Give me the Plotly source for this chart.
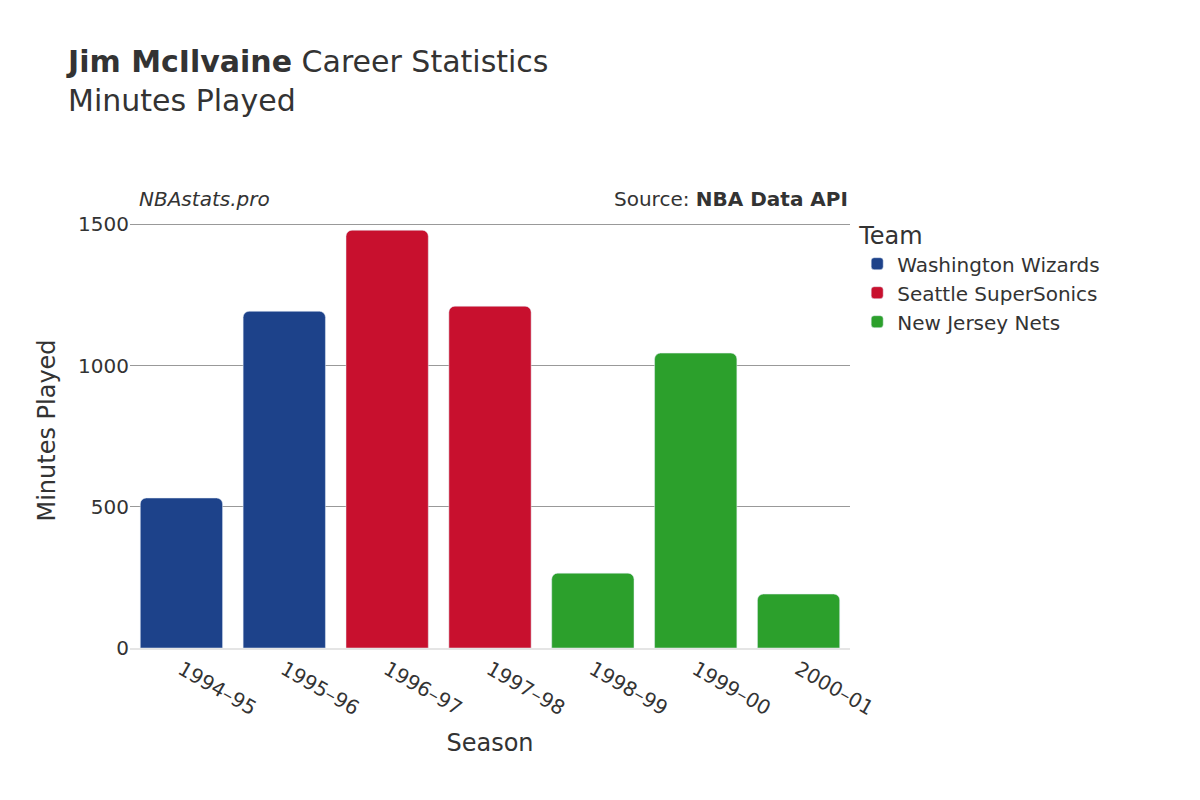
import plotly.graph_objects as go

seasons = ["1994–95", "1995–96", "1996–97", "1997–98", "1998–99", "1999–00", "2000–01"]
teams = ["Washington Wizards", "Washington Wizards", "Seattle SuperSonics", "Seattle SuperSonics",
         "New Jersey Nets", "New Jersey Nets", "New Jersey Nets"]
minutes = [531, 1192, 1479, 1210, 265, 1044, 191]

team_colors = {
    "Washington Wizards": "#1d428a",
    "Seattle SuperSonics": "#c8102e",
    "New Jersey Nets": "#2ca02c",
}

fig = go.Figure()
for team, color in team_colors.items():
    xs = [s for s, t in zip(seasons, teams) if t == team]
    ys = [m for m, t in zip(minutes, teams) if t == team]
    fig.add_trace(go.Bar(x=xs, y=ys, name=team, marker_color=color))

fig.update_layout(
    width=1200, height=800,
    font=dict(family="DejaVu Sans", color="#333", size=20),
    title=dict(text="<b>Jim McIlvaine</b> Career Statistics<br>Minutes Played",
               x=0.05, y=0.92, font=dict(size=30)),
    plot_bgcolor="white", paper_bgcolor="white",
    margin=dict(l=122, r=358, t=205, b=160),
    bargap=0.2, barcornerradius=6,
    legend=dict(title=dict(text="Team", font=dict(size=24)), x=1.01, y=1.0, font=dict(size=20)),
    xaxis=dict(title=dict(text="Season", font=dict(size=24)), tickangle=30,
               categoryorder="array", categoryarray=seasons, showline=True, linecolor="#e5e5e5", linewidth=2),
    yaxis=dict(title=dict(text="Minutes Played", font=dict(size=24)), range=[0, 1540],
               tickvals=[0, 500, 1000, 1500], gridcolor="#999", zeroline=False),
    annotations=[
        dict(text="<i>NBAstats.pro</i>", x=0.01, y=1.0, xref="paper", yref="paper",
             xanchor="left", yanchor="bottom", showarrow=False, font=dict(size=20)),
        dict(text="Source: <b>NBA Data API</b>", x=1.0, y=1.0, xref="paper", yref="paper",
             xanchor="right", yanchor="bottom", showarrow=False, font=dict(size=20)),
    ],
)
fig.write_html("out.html")
